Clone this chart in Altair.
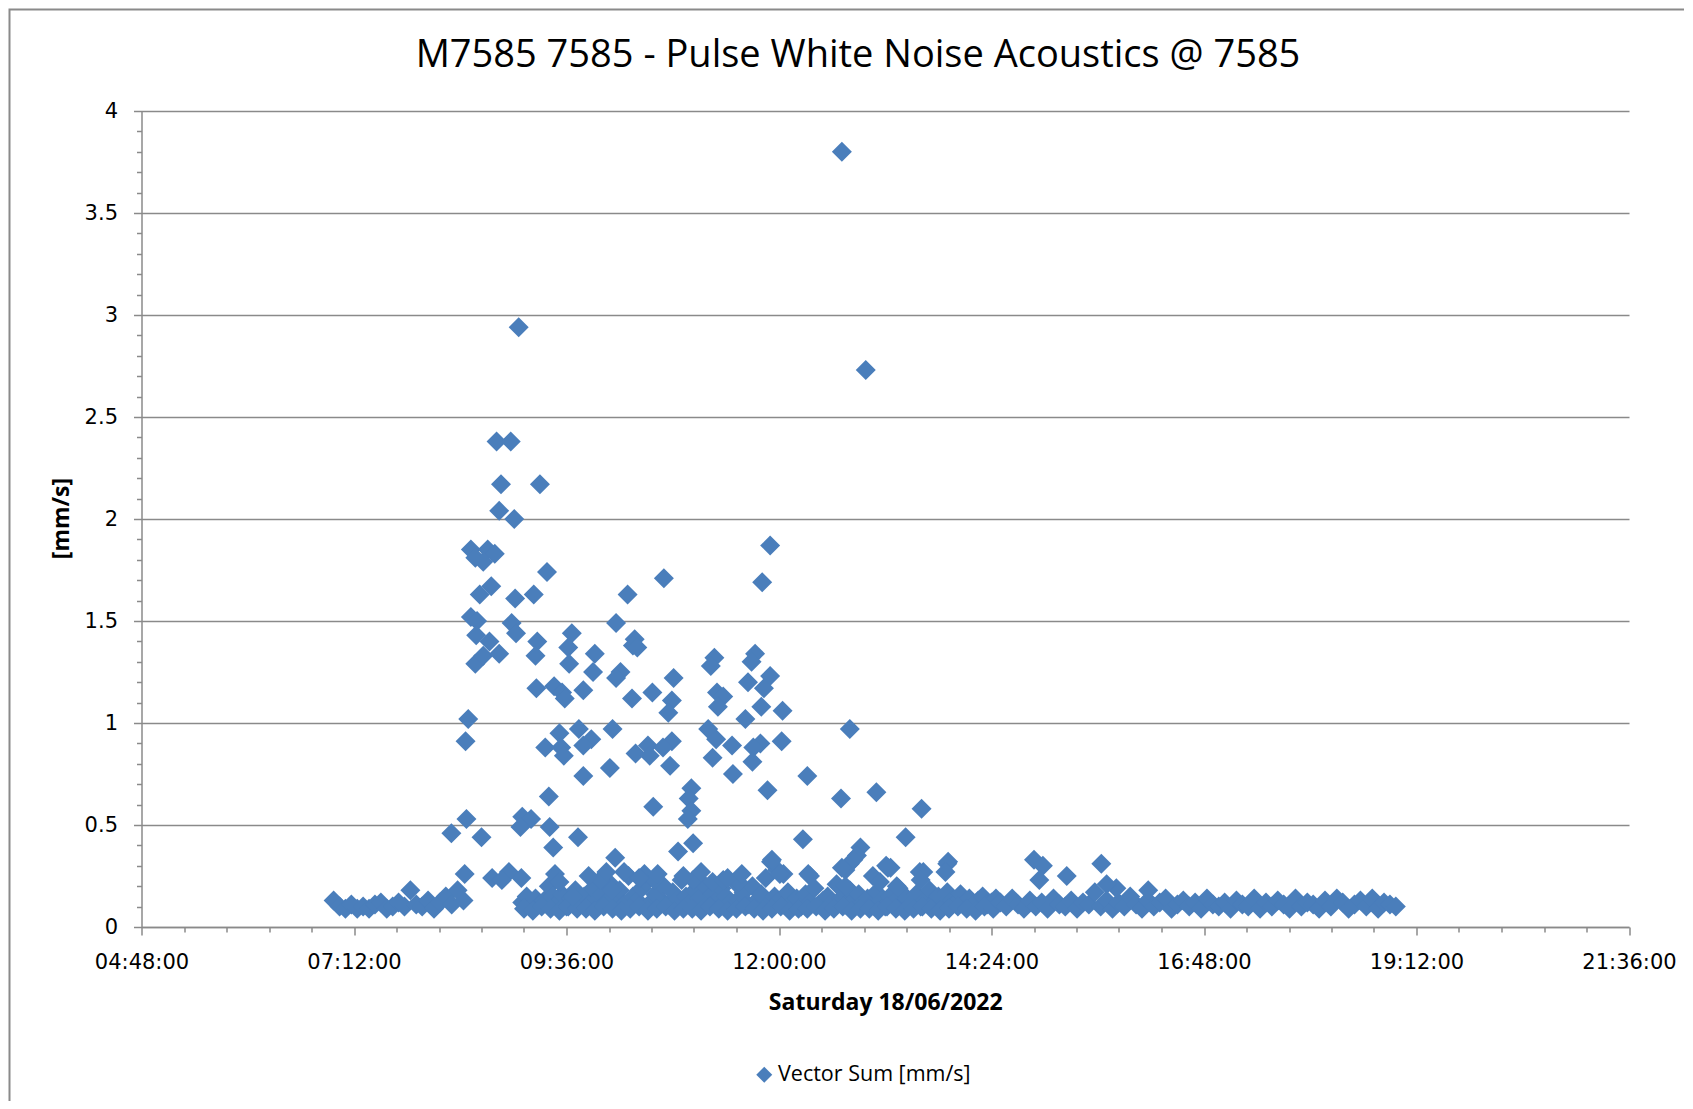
import altair as alt
import pandas as pd

TITLE = "M7585 7585 - Pulse White Noise Acoustics @ 7585"
SERIES = "Vector Sum [mm/s]"

# ---- scattered readings (decimal hour of day, mm/s) ----
peak_hours = [
    12.71, 9.06, 12.98, 8.81, 8.97, 8.86, 9.30, 8.84, 9.01, 11.90,
    8.52, 8.71, 8.79, 8.57, 8.66, 9.38, 10.70, 11.81, 8.75, 8.62,
    9.23, 10.29, 9.02, 8.52, 8.59, 8.98, 10.16, 8.58, 9.66, 8.73,
    9.27, 9.03, 10.37, 8.57, 8.66, 8.84, 9.62, 9.92, 9.25, 10.35,
    10.40, 9.63, 9.90, 10.21, 11.27, 11.23, 11.73, 11.69, 11.90, 10.81,
    10.16, 9.26, 9.46, 9.55, 9.79, 10.57, 11.30, 11.65, 11.37, 11.83,
    9.58, 10.34, 10.79, 11.31, 11.80, 12.04, 11.62, 8.49, 10.75, 12.80,
    10.12, 9.74, 11.20, 9.52, 10.52, 10.79, 8.46, 11.29, 12.03, 9.88,
    9.79, 9.36, 9.54, 10.69, 11.79, 11.47, 11.71, 10.38, 9.57, 10.54,
    11.25, 10.77, 11.70, 10.09, 11.48, 9.79, 12.32, 11.01, 11.87, 13.10,
    10.98, 9.40, 12.70, 10.58, 13.61, 11.01, 10.97, 8.47, 9.10, 9.20,
    9.41, 8.30, 9.08, 8.64, 9.73, 12.27, 13.43, 11.03, 9.45, 12.92,
    10.86, 10.15, 13.91, 14.88, 15.64, 14.98, 13.59, 8.45, 9.47, 12.80,
    12.88, 13.21, 10.48, 12.75, 15.25, 12.33, 8.76, 8.95, 9.09, 8.87,
    10.59, 9.98, 11.91, 11.98, 12.05, 14.94, 11.03, 12.35, 12.84, 13.26,
    13.63, 13.60, 13.90, 13.88, 12.01, 12.71, 12.75, 13.06, 13.14, 13.23,
    13.33, 11.92, 15.81, 16.17, 15.70, 9.67, 10.11, 11.25, 11.37, 11.54,
    9.85, 10.05, 10.42, 10.63, 10.92, 11.12, 11.42, 11.58, 9.52, 10.25,
]
peak_values = [
    3.80, 2.94, 2.73, 2.38, 2.38, 2.17, 2.17, 2.04, 2.00, 1.87,
    1.85, 1.85, 1.83, 1.81, 1.79, 1.74, 1.71, 1.69, 1.67, 1.63,
    1.63, 1.63, 1.61, 1.52, 1.50, 1.49, 1.49, 1.43, 1.44, 1.40,
    1.40, 1.44, 1.41, 1.29, 1.33, 1.34, 1.37, 1.34, 1.33, 1.38,
    1.37, 1.29, 1.25, 1.25, 1.32, 1.28, 1.34, 1.30, 1.23, 1.22,
    1.22, 1.17, 1.18, 1.15, 1.16, 1.15, 1.15, 1.20, 1.13, 1.17,
    1.12, 1.12, 1.11, 1.08, 1.08, 1.06, 1.02, 1.02, 1.05, 0.97,
    0.97, 0.97, 0.97, 0.95, 0.89, 0.91, 0.91, 0.92, 0.91, 0.92,
    0.89, 0.88, 0.88, 0.88, 0.90, 0.89, 0.88, 0.85, 0.84, 0.84,
    0.83, 0.79, 0.81, 0.78, 0.75, 0.74, 0.74, 0.68, 0.67, 0.66,
    0.63, 0.64, 0.63, 0.59, 0.58, 0.57, 0.53, 0.53, 0.54, 0.53,
    0.49, 0.46, 0.49, 0.44, 0.44, 0.43, 0.44, 0.41, 0.39, 0.39,
    0.37, 0.34, 0.32, 0.33, 0.31, 0.30, 0.27, 0.26, 0.26, 0.31,
    0.35, 0.30, 0.26, 0.28, 0.25, 0.26, 0.24, 0.27, 0.24, 0.23,
    0.23, 0.23, 0.32, 0.28, 0.26, 0.23, 0.23, 0.25, 0.33, 0.29,
    0.27, 0.23, 0.31, 0.27, 0.26, 0.29, 0.20, 0.25, 0.22, 0.29,
    0.20, 0.33, 0.19, 0.18, 0.21, 0.15, 0.18, 0.22, 0.23, 0.22,
    0.25, 0.27, 0.24, 0.26, 0.25, 0.27, 0.24, 0.26, 0.22, 0.27,
]

# ---- background readings logged at a regular interval ----
early_start, early_step = 6.97, 4 / 60
early_values = [
    0.13, 0.10, 0.09, 0.11, 0.09, 0.10, 0.09, 0.11, 0.12, 0.09,
    0.10, 0.12, 0.10, 0.18, 0.11, 0.10, 0.13, 0.09, 0.12, 0.15,
    0.11, 0.18, 0.13,
]
mid_start, mid_step = 9.10, 3 / 60
mid_values = [
    0.12, 0.15, 0.10, 0.14, 0.11, 0.13, 0.20, 0.15, 0.12, 0.16, 0.10, 0.14, 0.18, 0.12, 0.15, 0.11, 0.19, 0.13,
    0.16, 0.12, 0.21, 0.14, 0.18, 0.11, 0.25, 0.15, 0.13, 0.19, 0.22, 0.12, 0.16, 0.14, 0.20, 0.11, 0.17, 0.13, 0.23, 0.15,
    0.12, 0.18, 0.14, 0.21, 0.11, 0.16, 0.13, 0.19, 0.15, 0.12, 0.22, 0.14, 0.17, 0.11, 0.20, 0.13, 0.16, 0.24, 0.12, 0.15,
    0.13, 0.11, 0.17, 0.12, 0.14, 0.10, 0.16, 0.12, 0.19, 0.11, 0.13, 0.15, 0.12, 0.21, 0.14, 0.11, 0.18, 0.13, 0.16, 0.12,
    0.14, 0.11, 0.17, 0.13, 0.10, 0.15, 0.12, 0.19, 0.11, 0.14, 0.12, 0.16, 0.10, 0.13, 0.18, 0.12, 0.15, 0.11, 0.17, 0.13,
    0.12, 0.16, 0.11, 0.14, 0.10, 0.13, 0.15, 0.11, 0.12, 0.14,
]
floor_start, floor_step = 9.12, 6 / 60
floor_values = [
    0.09, 0.08, 0.10, 0.09, 0.08, 0.10, 0.09, 0.09, 0.08, 0.10,
    0.09, 0.08, 0.09, 0.10, 0.08, 0.09, 0.10, 0.08, 0.09, 0.09,
    0.08, 0.10, 0.09, 0.08, 0.09, 0.10, 0.09, 0.08, 0.09, 0.10,
    0.08, 0.09, 0.09, 0.10, 0.08, 0.09, 0.10, 0.08, 0.09, 0.09,
    0.08, 0.10, 0.09, 0.08, 0.09, 0.10, 0.09, 0.08, 0.09, 0.10,
    0.09, 0.08, 0.10, 0.09,
]
late_start, late_step = 14.50, 4 / 60
late_values = [
    0.12, 0.10, 0.14, 0.11, 0.09, 0.13, 0.10, 0.12, 0.09, 0.14, 0.11, 0.10, 0.13, 0.09, 0.12, 0.11, 0.17, 0.10, 0.13, 0.09,
    0.12, 0.10, 0.15, 0.11, 0.09, 0.13, 0.10, 0.12, 0.14, 0.09, 0.11, 0.13, 0.10, 0.12, 0.09, 0.14, 0.11, 0.10, 0.12, 0.09,
    0.13, 0.11, 0.10, 0.14, 0.09, 0.12, 0.10, 0.13, 0.11, 0.09, 0.14, 0.10, 0.12, 0.11, 0.09, 0.13, 0.10, 0.14, 0.12, 0.09,
    0.11, 0.13, 0.10, 0.14, 0.09, 0.12, 0.11, 0.10,
]

x_major = [4.8, 7.2, 9.6, 12.0, 14.4, 16.8, 19.2, 21.6]
y_major = [0, 0.5, 1, 1.5, 2, 2.5, 3, 3.5, 4]
x_minor = [round(4.8 + 0.48 * k, 2) for k in range(36) if k % 5]
y_minor = [round(0.1 * k, 1) for k in range(41) if k % 5]

rows = []
for start, step, vals in [
    (early_start, early_step, early_values),
    (mid_start, mid_step, mid_values),
    (floor_start, floor_step, floor_values),
    (late_start, late_step, late_values),
]:
    for i, v in enumerate(vals):
        rows.append({"hour": start + i * step, "value": v})
for h, v in zip(peak_hours, peak_values):
    rows.append({"hour": h, "value": v})
df = pd.DataFrame(rows)
df["series"] = SERIES

GRID = "#8a8a8a"
BLUE = "#4a7ebb"

xscale = alt.Scale(domain=[4.8, 21.6], nice=False, zero=False)
yscale = alt.Scale(domain=[0, 4], nice=False)

label_expr = (
    "(datum.value < 10 ? '0' : '') + floor(datum.value) + ':' + "
    "(round((datum.value % 1) * 60) < 10 ? '0' : '') + round((datum.value % 1) * 60) + ':00'"
)

points = alt.Chart(df).mark_point(
    shape="diamond", filled=True, size=400, opacity=1, strokeWidth=0
).encode(
    x=alt.X("hour:Q", scale=xscale, axis=alt.Axis(
        orient="bottom", values=x_major, labelExpr=label_expr, grid=False, labelFlush=False,
        tickSize=8, tickColor=GRID, tickWidth=1.5, domainColor=GRID, domainWidth=1.5,
        labelFont="DejaVu Sans", labelFontSize=21, labelColor="#000000", labelPadding=16,
        title="Saturday 18/06/2022", titleFont="Open Sans", titleFontSize=23,
        titleFontWeight="bold", titleColor="#000000", titleY=75, titleBaseline="middle",
    )),
    y=alt.Y("value:Q", scale=yscale, axis=alt.Axis(
        orient="left", values=y_major, format=".1~f", grid=True, gridColor=GRID, gridWidth=1.5,
        tickSize=8, tickColor=GRID, tickWidth=1.5, domainColor=GRID, domainWidth=1.5,
        labelFont="DejaVu Sans", labelFontSize=21, labelColor="#000000", labelPadding=16,
        labelFlush=False,
        title="[mm/s]", titleFont="Open Sans", titleFontSize=23, titleFontWeight="bold",
        titleColor="#000000", titleX=-80, titleY=407, titleBaseline="middle", titleAngle=-90,
    )),
    color=alt.Color("series:N", scale=alt.Scale(domain=[SERIES], range=[BLUE]), legend=alt.Legend(
        title=None, orient="none", legendX=612, legendY=953, symbolType="diamond",
        symbolSize=256, labelFont="Open Sans", labelFontSize=21.5, labelColor="#000000",
        symbolStrokeWidth=0, labelOffset=3, labelLimit=500,
    )),
)

minor = alt.Chart(df).mark_point(opacity=0).encode(
    x=alt.X("hour:Q", scale=xscale, axis=alt.Axis(
        orient="bottom", values=x_minor, labels=False, grid=False, domain=False,
        tickSize=5, tickColor=GRID, tickWidth=1.5, title="",
    )),
    y=alt.Y("value:Q", scale=yscale, axis=alt.Axis(
        orient="left", values=y_minor, labels=False, grid=False, domain=False,
        tickSize=5, tickColor=GRID, tickWidth=1.5, title="",
    )),
)

frame = alt.Chart(pd.DataFrame({"a": [0]})).mark_rect(
    fill="transparent", stroke="#8a8a8a", strokeWidth=2
).encode(
    x=alt.value(-132), x2=alt.value(1560), y=alt.value(-101.5), y2=alt.value(1000)
)

title = alt.Chart(pd.DataFrame({"t": [TITLE]})).mark_text(
    font="Open Sans", fontSize=38, align="center", baseline="middle", color="#000000"
).encode(text="t:N", x=alt.value(716.5), y=alt.value(-55))

chart = alt.layer(frame, title, minor, points).resolve_axis(
    x="independent", y="independent"
).properties(
    width=1487.5, height=816,
    autosize=alt.AutoSizeParams(type="none"),
    padding={"left": 133.5, "top": 103, "right": 55, "bottom": 174},
).configure_view(strokeWidth=0)

chart.save("out.html", embed_options={"renderer": "svg", "actions": False})
